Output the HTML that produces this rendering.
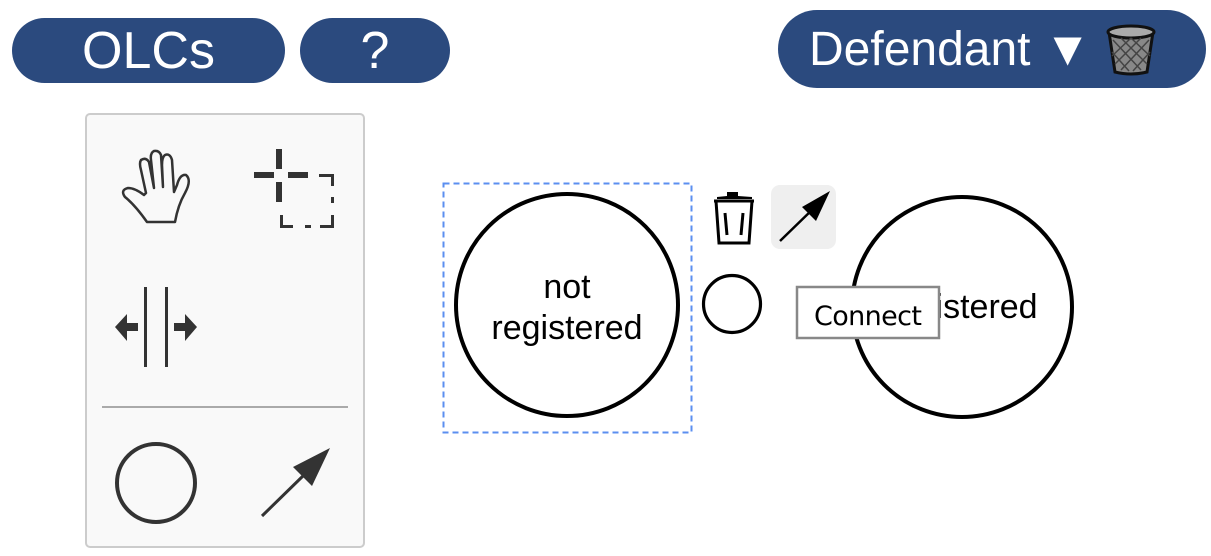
<!DOCTYPE html>
<html><head><meta charset="utf-8"><style>
body{margin:0;width:1211px;height:556px;background:#fff;position:relative;overflow:hidden;font-family:"Liberation Sans",sans-serif}
.btn{position:absolute;background:#2b4a7e;color:#fff;display:flex;align-items:center;justify-content:center;}
</style></head><body>
<div class="btn" style="left:12px;top:18px;width:273px;height:65px;border-radius:33px;font-size:52px">OLCs</div>
<div class="btn" style="left:300px;top:18px;width:150px;height:65px;border-radius:33px;font-size:52px">?</div>
<div class="btn" style="left:778px;top:10px;width:428px;height:78px;border-radius:39px;font-size:48px;justify-content:flex-start;padding-left:31px;box-sizing:border-box">Defendant ▼</div>
<svg style="position:absolute;left:0;top:0" width="1211" height="556">
<g transform="translate(1131,50)">
<path d="M-22,-18 L22,-18 L16,22 Q0,26 -16,22 Z" fill="#888" stroke="#111" stroke-width="3"/>
<ellipse cx="0" cy="-18" rx="23" ry="6" fill="#aaa" stroke="#111" stroke-width="3"/>
<g stroke="#444" stroke-width="1.5"><path d="M-18,-10 L10,20 M-10,-12 L16,14 M0,-12 L19,6 M-19,2 L-2,21 M18,-10 L-10,20 M10,-12 L-16,14 M0,-12 L-19,6 M19,2 L2,21"/></g>
</g>
<rect x="86" y="114" width="278" height="433" rx="4" fill="#f9f9f9" stroke="#ccc" stroke-width="2"/>
<line x1="102" y1="407" x2="348" y2="407" stroke="#aaa" stroke-width="2"/>
<path d="M147,222 L175,222 Q178,205 185,193 Q192,180 186,175 Q180,174 177,185 L174,192 L172,160 Q170,153 165,155 Q162,157 162,165 L163,187 L161,155 Q159,150 154,151 Q150,153 151,160 L154,188 L149,162 Q146,157 141,160 Q139,163 141,170 L146,193 L144,195 Q135,188 128,188 Q120,190 125,197 Q135,205 147,222 Z" fill="none" stroke="#333" stroke-width="2.5" stroke-linejoin="round"/>
<g fill="#333"><rect x="276" y="149" width="6" height="20"/><rect x="276" y="182" width="6" height="20"/><rect x="254" y="172" width="20" height="6"/><rect x="288" y="172" width="20" height="6"/>
<path d="M319,174 L334,174 L334,186 L331,186 L331,177 L319,177Z"/><rect x="331" y="197" width="3" height="6"/><path d="M280,215 L283,215 L283,225 L293,225 L293,228 L280,228Z"/><rect x="305" y="225" width="6" height="3"/><path d="M320,225 L331,225 L331,215 L334,215 L334,228 L320,228Z"/></g>
<g fill="#333"><rect x="144" y="287" width="3" height="80"/><rect x="165" y="287" width="3" height="80"/>
<path d="M115,327 L127,314 L127,323 L138,323 L138,331 L127,331 L127,341Z"/><path d="M197,327 L185,314 L185,323 L174,323 L174,331 L185,331 L185,341Z"/></g>
<circle cx="156" cy="483" r="39" fill="none" stroke="#333" stroke-width="4"/>
<line x1="262" y1="516" x2="305" y2="474" stroke="#333" stroke-width="3"/>
<path d="M330,448 L312,486 L293,467Z" fill="#333"/>
<rect x="443.5" y="183.5" width="248" height="249" fill="none" stroke="#5b8ff0" stroke-width="2" stroke-dasharray="6,4"/>
<circle cx="567" cy="305" r="111" fill="none" stroke="#000" stroke-width="4"/>
<text x="567" y="298" font-size="34" text-anchor="middle" font-family="Liberation Sans">not</text>
<text x="567" y="339" font-size="34" text-anchor="middle" font-family="Liberation Sans">registered</text>
<circle cx="962" cy="307" r="110" fill="none" stroke="#000" stroke-width="4"/>
<text x="962" y="318" font-size="34" text-anchor="middle" font-family="Liberation Sans">registered</text>
<path d="M717,197 L727,196 L727,192 L738,192 L738,196 L752,197 L752,199 L717,199Z" fill="#000"/>
<path d="M714,201 L754,201 M716,201 L719,243 L749,243 L752,201" fill="none" stroke="#000" stroke-width="3"/>
<path d="M725,213 L727,235 M743,213 L741,235" stroke="#000" stroke-width="3"/>
<rect x="771" y="185" width="65" height="64" rx="9" fill="#efefef"/>
<line x1="780" y1="241" x2="815" y2="207" stroke="#000" stroke-width="2.5"/>
<path d="M830,191 L816,221 L802,207Z" fill="#000"/>
<circle cx="732" cy="304" r="28.5" fill="none" stroke="#000" stroke-width="3.2"/>
<rect x="797" y="287" width="142" height="51" fill="#fff" stroke="#888" stroke-width="2.5"/>
<text x="868" y="325" font-size="27" text-anchor="middle" font-family="DejaVu Sans" textLength="108">Connect</text>
</svg>
</body></html>
